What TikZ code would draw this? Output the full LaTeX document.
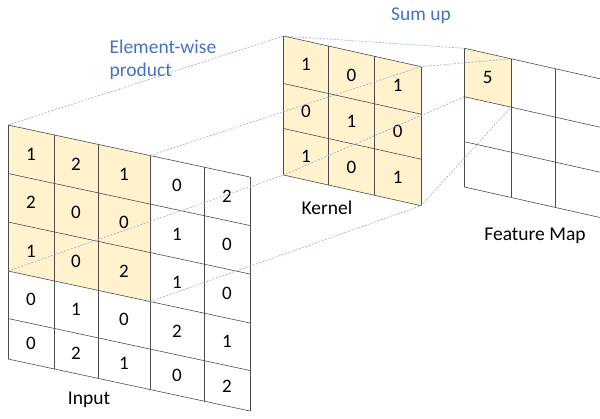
\documentclass[tikz,border=0pt]{standalone}
\usepackage{fontspec}
\setmainfont{Carlito}
\usetikzlibrary{calc}
\definecolor{cell}{HTML}{FFF2CC}
\definecolor{note}{HTML}{4472C4}
\definecolor{guide}{RGB}{140,170,225}

\begin{document}
\begin{tikzpicture}[x=1pt,y=-1pt,
    gridline/.style={draw=black!70,line width=0.6pt},
    guideline/.style={draw=guide,line width=0.6pt,dash pattern=on 2pt off 1.5pt},
    num/.style={font=\fontsize{19}{19}\selectfont},
    lbl/.style={font=\fontsize{19.5}{23}\selectfont,anchor=base},
    remark/.style={lbl,text=note,align=left}]

  \useasboundingbox (0,0) rectangle (600,418);

  % corners of the three grids
  \foreach \dx [count=\ci from 0] in {0,46,90,142,196,242}
    \foreach \dy [count=\ri from 0] in {0,48.5,97,146,193.5,234}
      \coordinate (in-\ci-\ri) at (8+\dx,125+0.215*\dx+\dy);
  \foreach \dx [count=\ci from 0] in {0,45,91,137.5}
    \foreach \dy [count=\ri from 0] in {0,47.5,92.5,139}
      \coordinate (kn-\ci-\ri) at (283.5+\dx,36+0.223*\dx+\dy);
  \foreach \dx [count=\ci from 0] in {0,46.5,91,136.5}
    \foreach \dy [count=\ri from 0] in {0,48.4,93.4,138.7}
      \coordinate (fm-\ci-\ri) at (464.5+\dx,48.3+0.225*\dx+\dy);

  \fill[cell] (in-0-0) -- (in-3-0) -- (in-3-3) -- (in-0-3) -- cycle;
  \fill[cell] (kn-0-0) -- (kn-3-0) -- (kn-3-3) -- (kn-0-3) -- cycle;
  \fill[cell] (fm-0-0) -- (fm-1-0) -- (fm-1-1) -- (fm-0-1) -- cycle;

  \foreach \i in {0,...,5} {
    \draw[gridline] (in-\i-0) -- (in-\i-5);
    \draw[gridline] (in-0-\i) -- (in-5-\i);
  }
  \foreach \i in {0,...,3} {
    \draw[gridline] (kn-\i-0) -- (kn-\i-3);
    \draw[gridline] (kn-0-\i) -- (kn-3-\i);
    \draw[gridline] (fm-\i-0) -- (fm-\i-3);
    \draw[gridline] (fm-0-\i) -- (fm-3-\i);
  }

  % cell values
  \foreach \vals [count=\ri from 0] in {{1,2,1,0,2},{2,0,0,1,0},{1,0,2,1,0},{0,1,0,2,1},{0,2,1,0,2}}
    \foreach \v [count=\ci from 0] in \vals {
      \pgfmathtruncatemacro\cn{\ci+1}
      \pgfmathtruncatemacro\rn{\ri+1}
      \node[num] (in-\ci-\ri-v) at ($(in-\ci-\ri)!.5!(in-\cn-\rn)$) {\v};
    }
  \foreach \vals [count=\ri from 0] in {{1,0,1},{0,1,0},{1,0,1}}
    \foreach \v [count=\ci from 0] in \vals {
      \pgfmathtruncatemacro\cn{\ci+1}
      \pgfmathtruncatemacro\rn{\ri+1}
      \node[num] (kn-\ci-\ri-v) at ($(kn-\ci-\ri)!.5!(kn-\cn-\rn)$) {\v};
    }
  \node[num] (fm-0-0-v) at ($(fm-0-0)!.5!(fm-1-1)$) {5};

  \draw[guideline] (in-0-0) -- (kn-0-0) -- (fm-0-0);
  \draw[guideline] (in-3-0) -- (kn-3-0) -- (fm-1-0);
  \draw[guideline] (in-0-3) -- (kn-0-3) -- (fm-0-1);
  \draw[guideline] (in-3-3) -- (kn-3-3) -- (fm-1-1);

  \node[lbl] (input) at (89,404) {Input};
  \node[lbl] (kernel) at (327,214) {Kernel};
  \node[lbl] (fmap) at (535,240) {Feature Map};
  \node[remark] (sum) at (421,20) {Sum up};
  \node[remark,anchor=base west] (prod) at (106,76) {Element-wise\\product};

\end{tikzpicture}
\end{document}
